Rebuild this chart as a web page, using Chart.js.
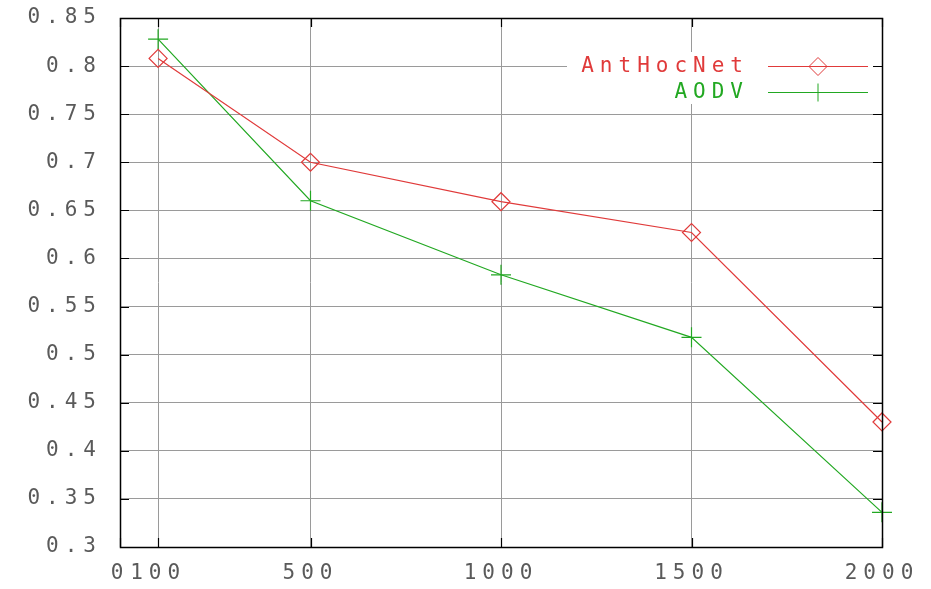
<!DOCTYPE html>
<html>
<head>
<meta charset="utf-8">
<script src="https://cdn.jsdelivr.net/npm/chart.js@4/dist/chart.umd.min.js"></script>
<style>
  html, body { margin: 0; padding: 0; background: #ffffff; }
  #wrap { width: 931px; height: 589px; }
</style>
</head>
<body>
<div id="wrap"><canvas id="c" width="931" height="589"></canvas></div>
<script>
// ---- data ----
const xValues = [100, 500, 1000, 1500, 2000];
const antHocNet = [0.808, 0.700, 0.659, 0.627, 0.430];
const aodv = [0.828, 0.660, 0.583, 0.518, 0.336];
const seriesNames = ['AntHocNet', 'AODV'];
const xTicks = [0, 100, 500, 1000, 1500, 2000];
const yTicks = [0.3, 0.35, 0.4, 0.45, 0.5, 0.55, 0.6, 0.65, 0.7, 0.75, 0.8, 0.85];

const RED = '#e03a3a';
const GREEN = '#22a822';
const FONT = 'DejaVu Sans Mono';
const LS = '6px';
const TXT = '#5a5a5a';

function toPoints(ys) { return xValues.map((x, i) => ({ x: x, y: ys[i] })); }

const spacingPlugin = {
  id: 'spacing',
  beforeUpdate(chart) { chart.ctx.letterSpacing = LS; },
  beforeLayout(chart) { chart.ctx.letterSpacing = LS; },
  beforeDraw(chart) { chart.ctx.letterSpacing = LS; }
};

function drawMarker(ctx, style, x, y, r) {
  ctx.beginPath();
  if (style === 'rectRot') {
    ctx.moveTo(x - r, y); ctx.lineTo(x, y - r); ctx.lineTo(x + r, y); ctx.lineTo(x, y + r); ctx.closePath();
  } else {
    ctx.moveTo(x - r, y); ctx.lineTo(x + r, y); ctx.moveTo(x, y - r); ctx.lineTo(x, y + r);
  }
  ctx.stroke();
}

const framePlugin = {
  id: 'frame',
  beforeDatasetsDraw(chart) {
    const ctx = chart.ctx;
    ctx.save();
    ctx.fillStyle = '#ffffff';
    ctx.fillRect(567, 52, chart.chartArea.right - 567, 52);
    ctx.restore();
  },
  afterDraw(chart) {
    const ctx = chart.ctx;
    const a = chart.chartArea;
    const xs = chart.scales.x, ys = chart.scales.y;
    ctx.save();
    ctx.strokeStyle = '#000000';
    ctx.lineWidth = 1.2;
    const tl = 9;
    ctx.beginPath();
    xTicks.forEach(v => {
      const px = Math.round(xs.getPixelForValue(v)) + 0.5;
      ctx.moveTo(px, a.bottom); ctx.lineTo(px, a.bottom - tl);
      ctx.moveTo(px, a.top); ctx.lineTo(px, a.top + tl);
    });
    yTicks.forEach(v => {
      const py = Math.round(ys.getPixelForValue(v)) + 0.5;
      ctx.moveTo(a.left, py); ctx.lineTo(a.left + tl, py);
      ctx.moveTo(a.right, py); ctx.lineTo(a.right - tl, py);
    });
    ctx.stroke();
    ctx.lineWidth = 1.5;
    ctx.strokeRect(Math.round(a.left) + 0.5, Math.round(a.top) + 0.5, Math.round(a.right - a.left), Math.round(a.bottom - a.top));

    ctx.letterSpacing = LS;
    ctx.font = '21px "' + FONT + '"';
    ctx.textAlign = 'right';
    ctx.textBaseline = 'middle';
    chart.data.datasets.forEach((ds, i) => {
      const y = 66 + i * 26;
      ctx.fillStyle = ds.borderColor;
      ctx.fillText(ds.label, 749, y + 1);
      ctx.strokeStyle = ds.borderColor;
      ctx.lineWidth = 1;
      ctx.beginPath();
      ctx.moveTo(768, y + 0.5); ctx.lineTo(868, y + 0.5);
      ctx.stroke();
      drawMarker(ctx, ds.pointStyle, 818, y + 0.5, 9);
    });
    ctx.restore();
  }
};

new Chart(document.getElementById('c'), {
  type: 'line',
  data: {
    datasets: [
      {
        label: seriesNames[0],
        data: toPoints(antHocNet),
        borderColor: RED,
        backgroundColor: 'rgba(0,0,0,0)',
        borderWidth: 1.2,
        pointStyle: 'rectRot',
        pointRadius: 9,
        pointBorderWidth: 1.2,
        pointBorderColor: RED,
        pointBackgroundColor: 'rgba(0,0,0,0)',
        tension: 0,
        clip: false
      },
      {
        label: seriesNames[1],
        data: toPoints(aodv),
        borderColor: GREEN,
        backgroundColor: 'rgba(0,0,0,0)',
        borderWidth: 1.2,
        pointStyle: 'cross',
        pointRadius: 10,
        pointBorderWidth: 1.2,
        pointBorderColor: GREEN,
        pointBackgroundColor: 'rgba(0,0,0,0)',
        tension: 0,
        clip: false
      }
    ]
  },
  options: {
    responsive: false,
    animation: false,
    devicePixelRatio: 1,
    layout: { padding: { top: 18, right: 49, left: 0, bottom: 0 } },
    plugins: {
      legend: { display: false },
      tooltip: { enabled: false }
    },
    scales: {
      x: {
        type: 'linear',
        min: 0,
        max: 2000,
        afterBuildTicks(scale) { scale.ticks = xTicks.map(v => ({ value: v })); },
        afterFit(scale) { scale.height = 42; scale.paddingLeft = 0; scale.paddingRight = 0; },
        ticks: {
          autoSkip: false,
          maxRotation: 0,
          minRotation: 0,
          padding: 14,
          color: TXT,
          font: { family: FONT, size: 21 },
          callback: (v) => String(v)
        },
        grid: { color: '#9a9a9a', lineWidth: 1, drawTicks: false },
        border: { display: false }
      },
      y: {
        type: 'linear',
        min: 0.3,
        max: 0.85,
        afterBuildTicks(scale) { scale.ticks = yTicks.map(v => ({ value: v })); },
        afterFit(scale) { scale.width = 120; scale.paddingTop = 0; scale.paddingBottom = 0; },
        ticks: {
          autoSkip: false,
          padding: 18,
          color: TXT,
          font: { family: FONT, size: 21 },
          callback: (v) => String(Number(v.toFixed(2)))
        },
        grid: { color: '#9a9a9a', lineWidth: 1, drawTicks: false },
        border: { display: false }
      }
    }
  },
  plugins: [spacingPlugin, framePlugin]
});
</script>
</body>
</html>
